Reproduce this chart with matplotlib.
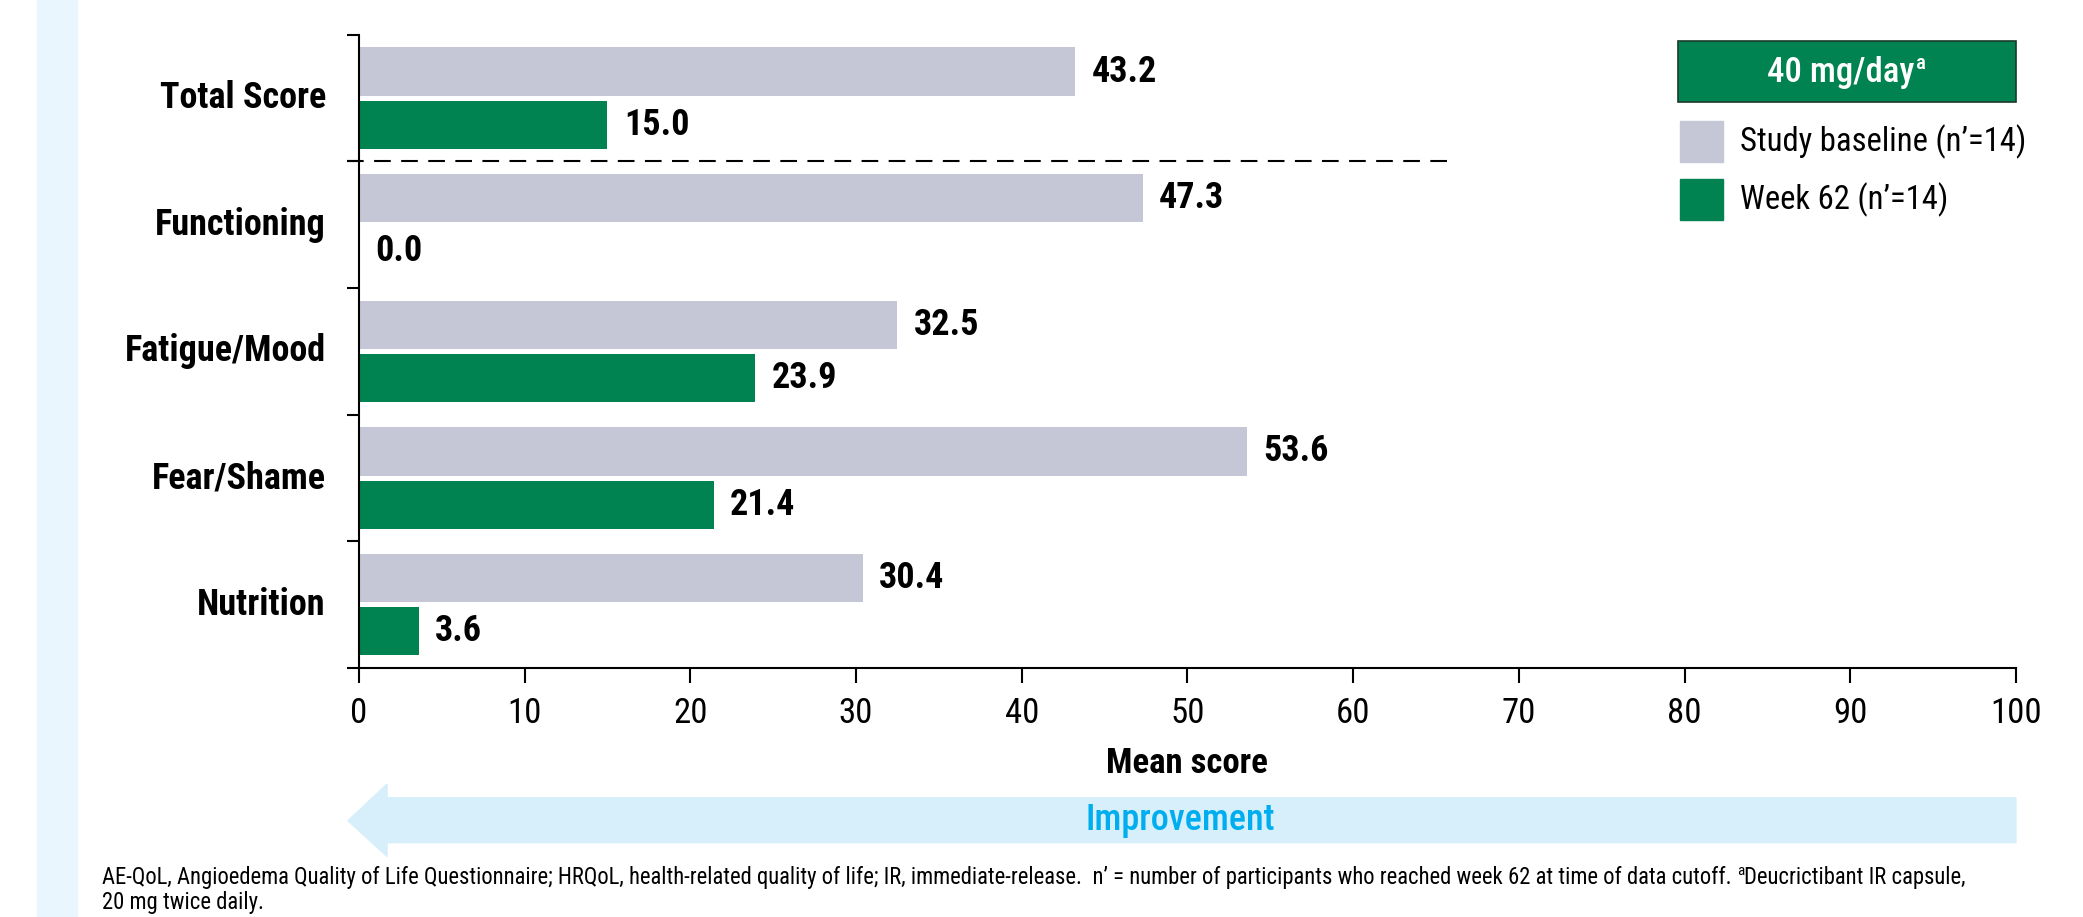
import matplotlib
matplotlib.use('Agg')
import matplotlib.pyplot as plt
from matplotlib import font_manager as fm
from matplotlib.patches import Polygon, Rectangle
from matplotlib.transforms import blended_transform_factory

categories = ['Total Score', 'Functioning', 'Fatigue/Mood', 'Fear/Shame', 'Nutrition']
baseline = [43.2, 47.3, 32.5, 53.6, 30.4]
week62 = [15.0, 0.0, 23.9, 21.4, 3.6]
series_labels = ["Study baseline (n\u2019=14)", "Week 62 (n\u2019=14)"]
x_ticks = [0, 10, 20, 30, 40, 50, 60, 70, 80, 90, 100]

gray = '#C5C7D6'
green = '#008350'

names = {f.name for f in fm.fontManager.ttflist}
font = 'DejaVu Sans'
for cand in ['Roboto Condensed', 'Liberation Sans Narrow', 'Roboto']:
    if cand in names:
        font = cand
        break
plt.rcParams['font.family'] = [font, 'DejaVu Sans']

fig = plt.figure(figsize=(20.83, 9.17), dpi=100)
fig.patches.append(Rectangle((0.018, 0), 0.019, 1, transform=fig.transFigure,
                             color='#EAF6FD', zorder=0))

ax = fig.add_axes([0.1723, 0.2715, 0.7955, 0.6947])

ypos = list(range(len(categories)))
off = 0.21
h = 0.38
ax.barh([y - off for y in ypos], baseline, height=h, color=gray)
ax.barh([y + off for y in ypos], week62, height=h, color=green)

for y, b, w in zip(ypos, baseline, week62):
    ax.text(b + 1.0, y - off, f'{b:.1f}', va='center', ha='left', fontsize=26, fontweight='bold')
    ax.text(w + 1.0, y + off, f'{w:.1f}', va='center', ha='left', fontsize=26, fontweight='bold')
    ax.text(-2.0, y, categories[y], va='center', ha='right', fontsize=26, fontweight='bold')

ax.set_ylim(len(categories) - 0.5, -0.53)
ax.set_yticks([y - 0.5 for y in range(len(categories) + 1)])
ax.set_yticklabels([])
ax.tick_params(axis='y', length=8.5, width=1.5)

ax.set_xlim(0, 100)
ax.set_xticks(x_ticks)
ax.tick_params(axis='x', length=11, width=1.5, labelsize=25, pad=10)
ax.set_xlabel('Mean score', fontsize=25, fontweight='bold', labelpad=12)

for s in ['top', 'right']:
    ax.spines[s].set_visible(False)
for s in ['left', 'bottom']:
    ax.spines[s].set_linewidth(1.5)
ax.spines['left'].set_bounds(len(categories) - 0.5, -0.5)

# separator under total score
ax.plot([-0.7, 66], [0.5, 0.5], color='black', lw=1.5, ls=(0, (8, 5)), clip_on=False)

fig.canvas.draw()
r = fig.canvas.get_renderer()
W = fig.bbox.width

# legend
fig.patches.append(Rectangle((0.8056, 0.889), 0.1622, 0.066, transform=fig.transFigure,
                             facecolor=green, edgecolor='#1a3a2a', lw=1.2))
t = fig.text(0.8835, 0.921, '40 mg/day', color='white', fontsize=25, ha='center', va='center',
             fontweight='medium')
bbt = t.get_window_extent(r)
fig.text(bbt.x1 / W + 0.001, 0.931, 'a', color='white', fontsize=15, ha='left', va='center',
         fontweight='medium')
fig.patches.append(Rectangle((0.8066, 0.823), 0.0206, 0.045, transform=fig.transFigure, color=gray))
fig.patches.append(Rectangle((0.8066, 0.760), 0.0206, 0.045, transform=fig.transFigure, color=green))
fig.text(0.8355, 0.845, series_labels[0], fontsize=23.5, va='center', ha='left')
fig.text(0.8355, 0.782, series_labels[1], fontsize=23.5, va='center', ha='left')

# improvement arrow
tr = blended_transform_factory(ax.transData, fig.transFigure)
arrow = Polygon([[-0.66, 0.105], [1.7, 0.145], [1.7, 0.130], [100, 0.130],
                 [100, 0.081], [1.7, 0.081], [1.7, 0.066]],
                closed=True, transform=tr, color='#D6EFFA', clip_on=False)
fig.patches.append(arrow)
fig.text(0.5665, 0.106, 'Improvement', color='#00AEEF', fontsize=26, ha='center', va='center',
         fontweight='medium')

# footnote
fs = 16.3
p1 = fig.text(0.049, 0.036, "AE-QoL, Angioedema Quality of Life Questionnaire; HRQoL, health-related quality of life; "
              "IR, immediate-release.  n\u2019 = number of participants who reached week 62 at time of data cutoff. ",
              fontsize=fs, va='baseline', ha='left')
bb = p1.get_window_extent(r)
p2 = fig.text(bb.x1 / W, 0.046, 'a', fontsize=11, va='baseline', ha='left')
bb2 = p2.get_window_extent(r)
fig.text(bb2.x1 / W, 0.036, 'Deucrictibant IR capsule,', fontsize=fs, va='baseline', ha='left')
fig.text(0.049, 0.009, '20 mg twice daily.', fontsize=fs, va='baseline', ha='left')

fig.savefig('out.png', dpi=100)
